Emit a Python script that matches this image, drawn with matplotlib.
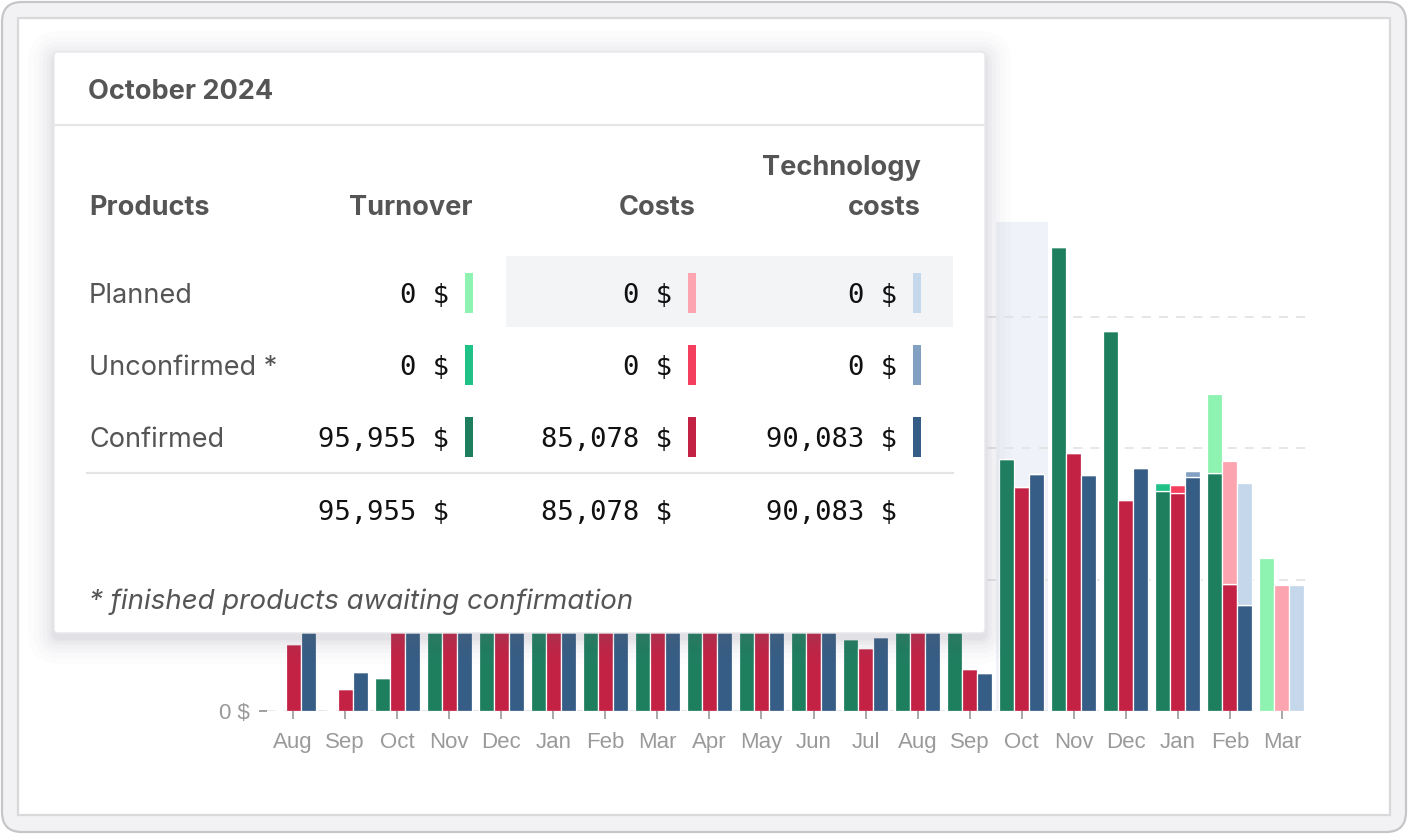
import matplotlib
matplotlib.use("Agg")
import matplotlib.pyplot as plt
from matplotlib.patches import FancyBboxPatch, Rectangle
from matplotlib import font_manager
import numpy as np

# ---------------- data ----------------
months = ["Aug", "Sep", "Oct", "Nov", "Dec", "Jan", "Feb", "Mar", "Apr", "May",
          "Jun", "Jul", "Aug", "Sep", "Oct", "Nov", "Dec", "Jan", "Feb", "Mar"]

turnover_confirmed = [0, 0, 12600, 70000, 85000, 80000, 90000, 75000, 95000, 88000,
                      92000, 27400, 78000, 65000, 95955, 176550, 144590, 83700, 90560, 0]
turnover_unconfirmed = [0, 0, 0, 0, 0, 0, 0, 0, 0, 0, 0, 0, 0, 0, 0, 0, 0, 3000, 0, 0]
turnover_planned = [0, 0, 0, 0, 0, 0, 0, 0, 0, 0, 0, 0, 0, 0, 0, 0, 0, 0, 30060, 58220]

costs_confirmed = [25500, 8400, 62000, 75000, 70000, 72000, 80000, 70000, 85000, 78000,
                   80000, 23970, 70000, 15980, 85078, 98170, 80290, 82950, 48320, 0]
costs_unconfirmed = [0, 0, 0, 0, 0, 0, 0, 0, 0, 0, 0, 0, 0, 0, 0, 0, 0, 3050, 0, 0]
costs_planned = [0, 0, 0, 0, 0, 0, 0, 0, 0, 0, 0, 0, 0, 0, 0, 0, 0, 0, 46810, 47940]

tech_confirmed = [45000, 14840, 60000, 72000, 74000, 75000, 78000, 72000, 82000, 80000,
                  81000, 28160, 72000, 14460, 90083, 89800, 92460, 89040, 40330, 0]
tech_unconfirmed = [0, 0, 0, 0, 0, 0, 0, 0, 0, 0, 0, 0, 0, 0, 0, 0, 0, 2280, 0, 0]
tech_planned = [0, 0, 0, 0, 0, 0, 0, 0, 0, 0, 0, 0, 0, 0, 0, 0, 0, 0, 46420, 47940]

highlight_index = 14  # October 2024

y_ticks = [0, 50000, 100000, 150000]
y_tick_labels = ["0 $", "", "", ""]  # upper labels lie hidden under the tooltip

tooltip_title = "October 2024"
tooltip_columns = ["Turnover", "Costs", "Technology\ncosts"]
tooltip_rows = ["Planned", "Unconfirmed *", "Confirmed"]
tooltip_values = [["0 $", "0 $", "0 $"],
                  ["0 $", "0 $", "0 $"],
                  ["95,955 $", "85,078 $", "90,083 $"]]
tooltip_totals = ["95,955 $", "85,078 $", "90,083 $"]
tooltip_note = "* finished products awaiting confirmation"

# ---------------- styles ----------------
colors = {
    "turnover": ["#1e7f5f", "#1fc187", "#8ef2b1"],
    "costs": ["#c32245", "#f43f5e", "#fca5b0"],
    "tech": ["#365d86", "#82a1c2", "#c5d7eb"],
}

W, H = 1408, 834
fig = plt.figure(figsize=(W / 100, H / 100), dpi=100)
fig.patch.set_facecolor("white")

# background frame
bg = fig.add_axes([0, 0, 1, 1], zorder=0)
bg.set_xlim(0, W)
bg.set_ylim(H, 0)
bg.axis("off")
bg.add_patch(FancyBboxPatch((2, 2), W - 4, H - 4, boxstyle="round,pad=0,rounding_size=20",
                            facecolor="#f2f2f4", edgecolor="#c6c6c8", linewidth=1.6))
bg.add_patch(Rectangle((18, 18), 1372, 797, facecolor="white", edgecolor="#d9d9db", linewidth=1.6))

# chart axes
x0, x1 = 267, 1308
y0, y1 = 711, 222
ax = fig.add_axes([x0 / W, (H - y0) / H, (x1 - x0) / W, (y0 - y1) / H], zorder=1)
ax.patch.set_alpha(0)
n = len(months)
idx = np.arange(n)
ax.set_xlim(-0.5, n - 0.5)
ax.set_ylim(0, 186000)

ax.axvspan(highlight_index - 0.5, highlight_index + 0.5, color="#eff2f9", zorder=0, lw=0)

for yv in y_ticks:
    ax.axhline(yv, color="#e4e4e6", lw=1.3, ls=(0, (5, 4.5)), zorder=0.5)

off = 0.288
bw = 0.288
series = [("turnover", -off, turnover_confirmed, turnover_unconfirmed, turnover_planned),
          ("costs", 0.0, costs_confirmed, costs_unconfirmed, costs_planned),
          ("tech", off, tech_confirmed, tech_unconfirmed, tech_planned)]
for key, o, conf, unconf, plan in series:
    c = colors[key]
    conf = np.array(conf, float)
    unconf = np.array(unconf, float)
    plan = np.array(plan, float)
    ax.bar(idx + o, conf, width=bw, color=c[0], edgecolor="white", linewidth=0.9, zorder=2)
    ax.bar(idx + o, unconf, width=bw, bottom=conf, color=c[1], edgecolor="white", linewidth=0.9, zorder=2)
    ax.bar(idx + o, plan, width=bw, bottom=conf + unconf, color=c[2], edgecolor="white", linewidth=0.9, zorder=2)

for s in ax.spines.values():
    s.set_visible(False)
ax.set_xticks(idx)
ax.set_xticklabels(months)
ax.set_yticks(y_ticks)
ax.set_yticklabels(y_tick_labels)
ax.tick_params(axis="x", length=6, width=1.4, color="#a8a8a8", pad=9,
               labelsize=16, labelcolor="#9a9a9a")
ax.tick_params(axis="y", length=6, width=1.4, color="#a0a0a0", pad=6,
               labelsize=16, labelcolor="#9a9a9a")
for lab in ax.get_xticklabels() + ax.get_yticklabels():
    lab.set_fontfamily(["Liberation Sans", "DejaVu Sans"])

# ---------------- tooltip overlay ----------------
ov = fig.add_axes([0, 0, 1, 1], zorder=3)
ov.set_xlim(0, W)
ov.set_ylim(H, 0)
ov.axis("off")
ov.patch.set_alpha(0)

tx0, ty0, tx1, ty1 = 54, 52, 985, 633
for i, pad in enumerate([26, 20, 15, 11, 7, 4, 2]):
    ov.add_patch(FancyBboxPatch((tx0 - pad, ty0 - pad + 5), tx1 - tx0 + 2 * pad, ty1 - ty0 + 2 * pad,
                                boxstyle="round,pad=0,rounding_size=%g" % (6 + pad),
                                facecolor="#707080", edgecolor="none", alpha=0.014 + 0.004 * i))
ov.add_patch(FancyBboxPatch((tx0, ty0), tx1 - tx0, ty1 - ty0, boxstyle="round,pad=0,rounding_size=4",
                            facecolor="white", edgecolor="#e8e8ea", linewidth=1.0))

sans = ["Inter", "DejaVu Sans"]
mono = ["DejaVu Sans Mono"]


def has_italic(fam):
    for f in font_manager.fontManager.ttflist:
        if f.name == fam and f.style in ("italic", "oblique"):
            return True
    return False


ital_fam = None
for fam in ["Inter", "Noto Sans", "Open Sans", "Lato", "Roboto", "Liberation Sans"]:
    if has_italic(fam):
        ital_fam = fam
        break
if ital_fam is None:
    ital_fam = "DejaVu Sans"

fs = 19.5
dy = 3  # vertical text correction
dark = "#555555"
ov.text(88, 89 + dy, tooltip_title, fontfamily=sans, fontweight="bold", fontsize=fs, color=dark,
        va="center", ha="left")
ov.plot([tx0 + 1, tx1 - 1], [125, 125], color="#e6e6e8", lw=1.6)

col_right = [473, 696, 921]
val_right = [449, 672, 897]
row_y = [293, 365, 437]

ov.add_patch(Rectangle((506, 256), 953 - 506, 327 - 256, facecolor="#f3f4f6", edgecolor="none"))

ov.text(89, 205 + dy, "Products", fontfamily=sans, fontweight="bold", fontsize=fs, color=dark,
        va="center", ha="left")
for cx, name in zip(col_right, tooltip_columns):
    lines = name.split("\n")
    for k, ln in enumerate(reversed(lines)):
        ov.text(cx, 205 + dy - 40 * k, ln, fontfamily=sans, fontweight="bold", fontsize=fs,
                color=dark, va="center", ha="right")

keys = ["turnover", "costs", "tech"]
for r, (ry, rname) in enumerate(zip(row_y, tooltip_rows)):
    ov.text(89, ry + dy, rname, fontfamily=sans, fontsize=fs, color=dark, va="center", ha="left")
    for cidx in range(3):
        ov.text(val_right[cidx], ry + dy, tooltip_values[r][cidx], fontfamily=mono, fontsize=fs,
                color="#111111", va="center", ha="right")
        ov.add_patch(Rectangle((col_right[cidx] - 8, ry - 20), 8, 40,
                               facecolor=colors[keys[cidx]][2 - r], edgecolor="none"))

ov.plot([87, 953], [473, 473], color="#e4e4e6", lw=1.6)
for cidx in range(3):
    ov.text(val_right[cidx], 510 + dy, tooltip_totals[cidx], fontfamily=mono, fontsize=fs,
            color="#111111", va="center", ha="right")

ov.text(89, 599 + dy, tooltip_note, fontfamily=[ital_fam, "DejaVu Sans"], fontstyle="italic",
        fontsize=19.9, color=dark, va="center", ha="left")

fig.savefig("out.png", dpi=100)
